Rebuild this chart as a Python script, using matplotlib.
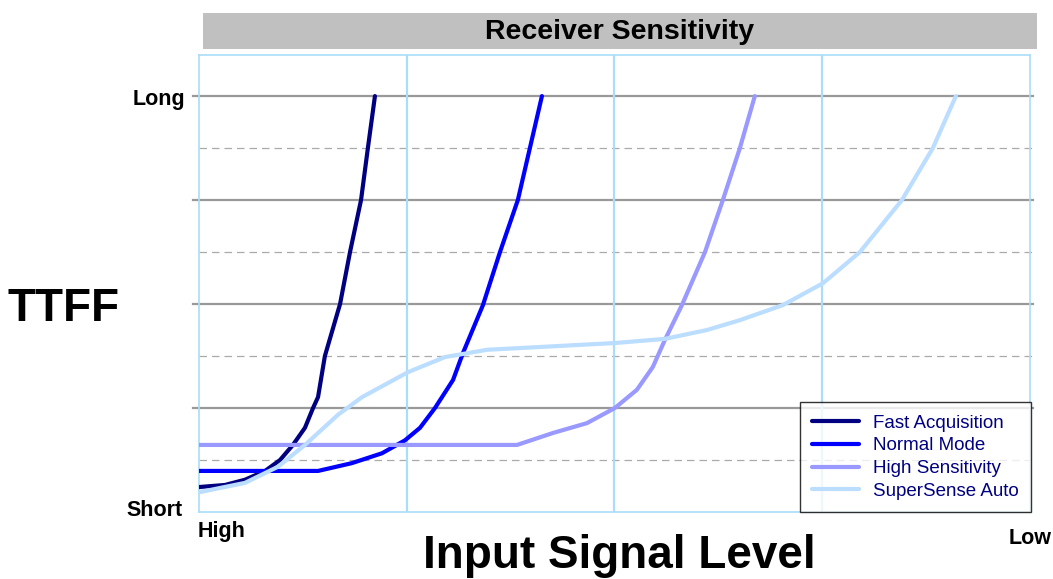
import matplotlib
matplotlib.use("Agg")
import matplotlib.pyplot as plt
from matplotlib.patches import Rectangle

plt.rcParams["font.family"] = ["Liberation Sans", "DejaVu Sans"]

# signal level runs 0 (high) .. 4 (low); TTFF runs 0 (short) .. 8 (long)
fast_x = [0.0, 0.125, 0.221, 0.318, 0.390, 0.452, 0.510, 0.549, 0.573,
          0.606, 0.679, 0.727, 0.780, 0.813, 0.847]
fast_y = [0.48, 0.52, 0.62, 0.79, 1.00, 1.29, 1.62, 2.00, 2.21,
          3.00, 4.00, 5.00, 6.00, 7.00, 8.00]

normal_x = [0.0, 0.573, 0.736, 0.881, 0.992, 1.064, 1.136, 1.223, 1.271,
            1.367, 1.449, 1.535, 1.593, 1.651]
normal_y = [0.79, 0.79, 0.94, 1.13, 1.38, 1.62, 2.00, 2.54, 3.06,
            3.98, 5.00, 6.00, 7.00, 8.00]

high_x = [0.0, 1.531, 1.704, 1.868, 2.002, 2.108, 2.185, 2.243, 2.325,
          2.436, 2.522, 2.604, 2.676]
high_y = [1.29, 1.29, 1.52, 1.71, 2.00, 2.35, 2.79, 3.31, 3.98,
          5.00, 6.00, 7.00, 8.00]

super_x = [0.0, 0.221, 0.380, 0.510, 0.669, 0.785, 1.006, 1.184, 1.386,
           2.002, 2.243, 2.445, 2.604, 2.811, 3.004, 3.182, 3.384, 3.533, 3.644]
super_y = [0.38, 0.56, 0.87, 1.29, 1.87, 2.21, 2.69, 2.98, 3.12,
           3.25, 3.33, 3.50, 3.69, 3.98, 4.40, 5.00, 6.00, 7.00, 8.00]

series = [
    ("Fast Acquisition", fast_x, fast_y, "#000080"),
    ("Normal Mode", normal_x, normal_y, "#0000FF"),
    ("High Sensitivity", high_x, high_y, "#9999FF"),
    ("SuperSense Auto", super_x, super_y, "#BBDDFF"),
]

fig = plt.figure(figsize=(10.53, 5.79), dpi=100)
ax = fig.add_axes([0.189, 0.1157, 0.789, 0.7893])
ax.set_xlim(0, 4)
ax.set_ylim(0, 8.79)

grid_blue = "#AADDFA"
for s in ax.spines.values():
    s.set_color(grid_blue)
    s.set_linewidth(1.2)
ax.set_xticks([])
ax.set_yticks([])

# horizontal guides: solid on even levels, dashed on odd ones
ytr = ax.get_yaxis_transform()
for lvl in [2, 4, 6, 8]:
    ax.plot([-0.007, 1.004], [lvl, lvl], color="#999999", lw=1.6,
            transform=ytr, clip_on=False, zorder=1)
for lvl in [1, 3, 5, 7]:
    ax.plot([0, 1.004], [lvl, lvl], color="#AAAAAA", lw=0.9, ls=(0, (6, 4)),
            transform=ytr, clip_on=False, zorder=1)
for xv in [1, 2, 3]:
    ax.axvline(xv, color=grid_blue, lw=1.6, zorder=1)

for name, xs, ys, col in series:
    ax.plot(xs, ys, color=col, lw=3.0, label=name, zorder=3,
            solid_capstyle="round", solid_joinstyle="round")

leg = ax.legend(loc="lower right", bbox_to_anchor=(1.001, 0.0), fontsize=13.5,
                frameon=True, fancybox=False, handlelength=2.5,
                labelspacing=0.3, borderpad=0.65, handletextpad=0.75,
                borderaxespad=0.0)
leg.get_frame().set_edgecolor("black")
leg.get_frame().set_linewidth(1.0)
for t in leg.get_texts():
    t.set_color("#000080")

# grey title band
fig.patches.append(Rectangle((203 / 1053, (579 - 49) / 579), 834 / 1053, 36 / 579,
                             transform=fig.transFigure, facecolor="#C0C0C0",
                             edgecolor="none", zorder=0))
fig.text(620 / 1053, (579 - 32) / 579, "Receiver Sensitivity", fontsize=20.5,
         fontweight="bold", ha="center", va="center")

fig.text(185 / 1053, (579 - 99) / 579, "Long", fontsize=15.5, fontweight="bold",
         ha="right", va="center")
fig.text(183 / 1053, (579 - 511) / 579, "Short", fontsize=15.5, fontweight="bold",
         ha="right", va="center")
fig.text(198 / 1053, (579 - 531) / 579, "High", fontsize=15.5, fontweight="bold",
         ha="left", va="center")
fig.text(1052 / 1053, (579 - 538) / 579, "Low", fontsize=15.5, fontweight="bold",
         ha="right", va="center")

fig.text(63 / 1053, (579 - 309) / 579, "TTFF", fontsize=33, fontweight="bold",
         ha="center", va="center")
fig.text(619 / 1053, (579 - 556) / 579, "Input Signal Level", fontsize=33,
         fontweight="bold", ha="center", va="center")

fig.savefig("out.png", dpi=100)
